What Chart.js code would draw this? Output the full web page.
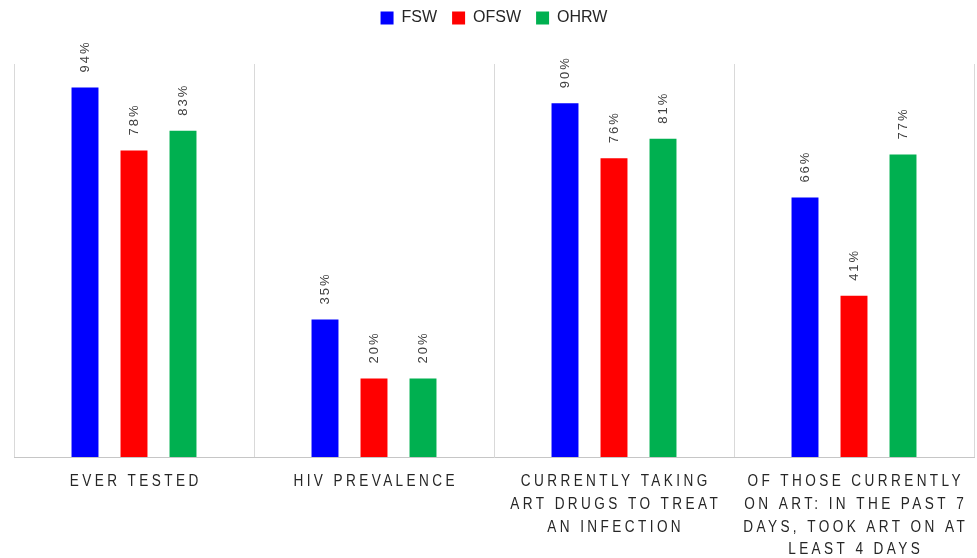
<!DOCTYPE html>
<html>
<head>
<meta charset="utf-8">
<script src="https://cdn.jsdelivr.net/npm/chart.js@4.4.1/dist/chart.umd.min.js"></script>
<style>
  html, body { margin: 0; padding: 0; background: #ffffff; }
  #wrap { width: 977px; height: 558px; }
</style>
</head>
<body>
<div id="wrap"><canvas id="c" width="977" height="558"></canvas></div>
<script>
const categories = [
  ['EVER TESTED'],
  ['HIV PREVALENCE'],
  ['CURRENTLY TAKING', 'ART DRUGS TO TREAT', 'AN INFECTION'],
  ['OF THOSE CURRENTLY', 'ON ART: IN THE PAST 7', 'DAYS, TOOK ART ON AT', 'LEAST 4 DAYS']
];
const seriesNames = ['FSW', 'OFSW', 'OHRW'];
const fswValues  = [94, 35, 90, 66];
const ofswValues = [78, 20, 76, 41];
const ohrwValues = [83, 20, 81, 77];
const seriesColors = ['#0000FF', '#FF0000', '#00B050'];

// Rotated value labels above each bar
const valueLabels = {
  id: 'valueLabels',
  afterDatasetsDraw(chart) {
    const ctx = chart.ctx;
    chart.data.datasets.forEach((ds, di) => {
      const meta = chart.getDatasetMeta(di);
      meta.data.forEach((bar, i) => {
        ctx.save();
        ctx.font = "13px 'Liberation Sans', Arial, sans-serif";
        ctx.fillStyle = '#404040';
        try { ctx.letterSpacing = '2px'; } catch (e) {}
        ctx.translate(bar.x, bar.y - 15);
        ctx.rotate(-Math.PI / 2);
        ctx.textAlign = 'left';
        ctx.textBaseline = 'middle';
        ctx.fillText(ds.data[i] + '%', 0, 0);
        ctx.restore();
      });
    });
  }
};

// Condensed, letter-spaced category labels drawn at the x scale's tick positions
const categoryLabels = {
  id: 'categoryLabels',
  afterDraw(chart) {
    const s = chart.scales.x;
    const ctx = chart.ctx;
    const hScale = 0.85;
    const spacing = 3.4;           // visible px between letters
    const firstLineY = s.top + 25; // centre of first line
    const lineStep = 22.6;
    chart.data.labels.forEach((lines, i) => {
      const x = s.getPixelForTick(i);
      lines.forEach((line, li) => {
        ctx.save();
        ctx.font = "16px 'Liberation Sans', Arial, sans-serif";
        ctx.fillStyle = '#262626';
        try { ctx.letterSpacing = (spacing / hScale) + 'px'; } catch (e) {}
        ctx.textAlign = 'left';
        ctx.textBaseline = 'middle';
        ctx.translate(x, firstLineY + li * lineStep);
        ctx.scale(hScale, 1);
        const w = ctx.measureText(line).width - spacing / hScale;
        ctx.fillText(line, -w / 2, 0);
        ctx.restore();
      });
    });
  }
};

new Chart(document.getElementById('c'), {
  type: 'bar',
  data: {
    labels: categories,
    datasets: [
      { label: seriesNames[0], data: fswValues,  backgroundColor: seriesColors[0] },
      { label: seriesNames[1], data: ofswValues, backgroundColor: seriesColors[1] },
      { label: seriesNames[2], data: ohrwValues, backgroundColor: seriesColors[2] }
    ]
  },
  options: {
    responsive: false,
    animation: false,
    devicePixelRatio: 1,
    layout: { padding: { left: 14, right: 3, top: -5, bottom: 0 } },
    datasets: {
      bar: { categoryPercentage: 0.6125, barPercentage: 0.55, borderWidth: 0 }
    },
    plugins: {
      legend: {
        position: 'top',
        labels: {
          boxWidth: 13,
          boxHeight: 13,
          padding: 15,
          color: '#262626',
          font: { family: "'Liberation Sans', Arial, sans-serif", size: 16 }
        }
      },
      tooltip: { enabled: false }
    },
    scales: {
      x: {
        position: 'bottom',
        offset: true,
        grid: { display: true, color: '#d9d9d9', lineWidth: 1, drawTicks: false, offset: true },
        border: { display: true, color: '#c6c6c6', width: 1 },
        ticks: { display: false },
        afterFit: (s) => { s.height = 101; }
      },
      x2: {
        type: 'category',
        labels: categories,
        position: 'top',
        grid: { display: false },
        border: { display: false },
        ticks: { display: false },
        afterFit: (s) => { s.height = 28; }
      },
      y: {
        display: false,
        min: 0,
        max: 100
      }
    }
  },
  plugins: [valueLabels, categoryLabels]
});
</script>
</body>
</html>
